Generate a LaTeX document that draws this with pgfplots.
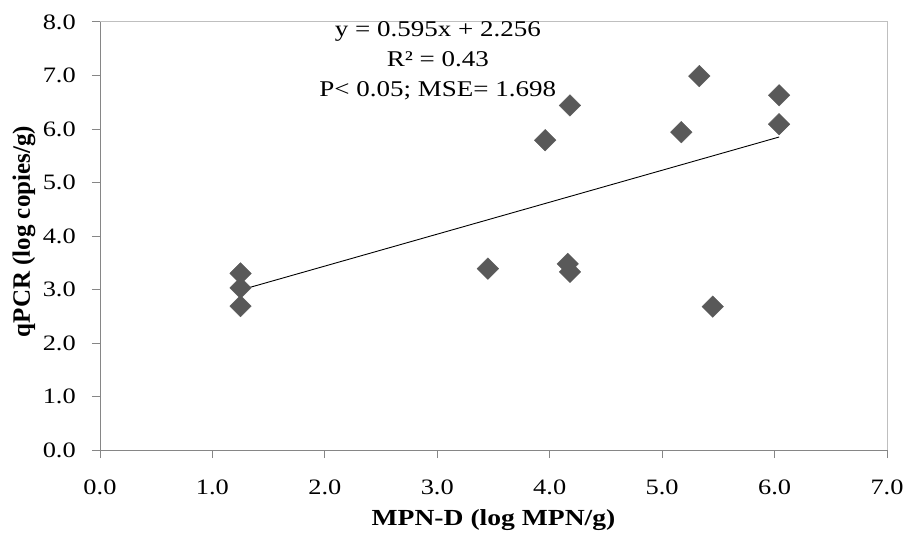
\documentclass[border=0pt]{standalone}
\usepackage{fontspec}
\setmainfont{Liberation Serif}[FakeStretch=1.2]
\newfontfamily\ylabfont{Liberation Serif}
\usepackage{pgfplots}
\pgfplotsset{compat=1.18}
\definecolor{axgray}{HTML}{868686}
\definecolor{boxgray}{HTML}{BFBFBF}
\definecolor{markgray}{HTML}{595959}
\begin{document}
\begin{tikzpicture}
\begin{axis}[
  name=ax,
  scale only axis,
  width=787bp, height=428bp,
  xmin=0, xmax=7, ymin=0, ymax=8,
  xtick={0,1,...,7}, ytick={0,1,...,8},
  axis lines*=left,
  axis line style={-, draw=axgray, line width=1bp},
  tick align=outside,
  major tick length=8bp,
  tick style={draw=axgray, line width=1bp},
  minor tick num=0,
  /pgf/number format/assume math mode=true,
  /pgf/number format/.cd, fixed, fixed zerofill, precision=1, /pgfplots/.cd,
  ticklabel style={font=\fontsize{22bp}{25bp}\selectfont, text=black},
  yticklabel style={inner sep=0pt, xshift=-16bp},
  xticklabel style={inner sep=0pt, yshift=-22bp},
  xlabel={MPN-D (log MPN/g)},
  ylabel={\ylabfont\bfseries qPCR (log copies/g)},
  xlabel style={font=\fontsize{23bp}{26bp}\selectfont\bfseries, at={(axis description cs:0.5,-0.1636)}, anchor=center},
  ylabel style={font=\fontsize{25bp}{28bp}\selectfont, at={(axis description cs:-0.0966,0.5105)}, anchor=center, rotate=0},
  clip=false,
]
\draw[boxgray, line width=1bp] (rel axis cs:0,1) -- (rel axis cs:1,1) -- (rel axis cs:1,0);
\addplot[only marks, mark=square*, mark size=7.6bp, mark options={rotate=45, fill=markgray, draw=markgray}]
  coordinates {
  (1.25,3.30) (1.25,3.03) (1.25,2.69)
  (3.45,3.39) (3.96,5.79)
  (4.16,3.48) (4.18,3.33) (4.18,6.44)
  (5.17,5.94) (5.33,6.99) (5.45,2.68)
  (6.04,6.63) (6.04,6.09)
  };
\addplot[black, line width=0.9bp, no marks] coordinates {(1.25,2.99) (6.04,5.85)};
\node[anchor=north, align=center, inner sep=0pt, font=\fontsize{22.5bp}{30bp}\selectfont]
  at (axis cs:3.005,8.02) {y = 0.595x + 2.256\\R² = 0.43\\P< 0.05; MSE= 1.698};
\end{axis}
\pgfresetboundingbox
\useasboundingbox ([shift={(-100bp,-86bp)}]ax.south west) rectangle ([shift={(21bp,22bp)}]ax.north east);
\end{tikzpicture}
\end{document}
